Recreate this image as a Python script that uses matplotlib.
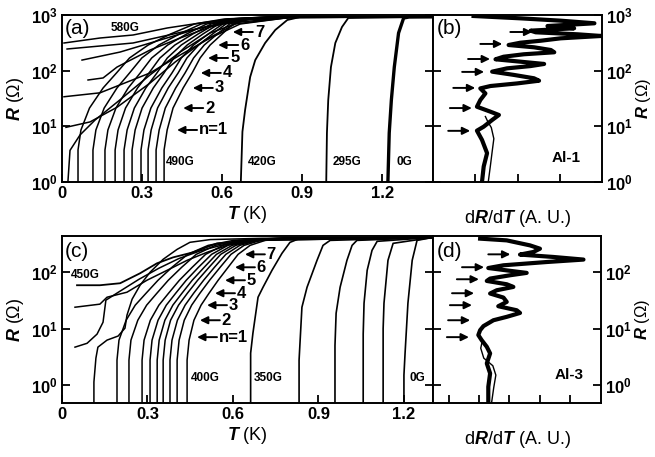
import numpy as np
import matplotlib
matplotlib.use('Agg')
import matplotlib.pyplot as plt
from matplotlib.ticker import NullLocator

plt.rcParams['font.family'] = ['Liberation Sans', 'DejaVu Sans']
plt.rcParams['font.weight'] = 'bold'
plt.rcParams['mathtext.fontset'] = 'custom'
plt.rcParams['mathtext.rm'] = 'Liberation Sans:bold'
plt.rcParams['mathtext.it'] = 'Liberation Sans:italic:bold'
plt.rcParams['mathtext.bf'] = 'Liberation Sans:bold'

# ---------------- panel (a): Al-1, R(T) ----------------
# curves that start at finite R at the lowest T (highest fields, 580G on top)
a_top_T = [
    [0.0075, 0.1425, 0.266, 0.394, 0.5175, 0.63, 0.7425, 0.8925, 1.39],
    [0.019, 0.266, 0.5175, 0.6675, 0.8925, 1.39],
    [0.075, 0.2175, 0.3675, 0.5175, 0.6675, 0.9, 1.39],
    [0.0975, 0.154, 0.206, 0.33, 0.4425, 0.555, 0.686, 0.9, 1.39],
    [0.0075, 0.1425, 0.33, 0.4425, 0.555, 0.6675, 0.85, 1.39],
    [0.015, 0.105, 0.206, 0.33, 0.424, 0.536, 0.649, 0.85, 1.39],
    [0.02, 0.03, 0.0675, 0.124, 0.2175, 0.33, 0.4425, 0.555, 0.6675, 0.85, 1.39],
]
a_top_R = [
    [314, 386, 437, 584, 718, 848, 910, 925, 925],
    [245, 314, 584, 813, 920, 925],
    [155, 216, 355, 584, 813, 920, 925],
    [68, 74, 116, 235, 386, 609, 848, 920, 925],
    [34, 40, 91, 191, 386, 689, 900, 925],
    [9.6, 12, 22, 60, 143, 355, 689, 900, 925],
    [0.7, 3.7, 7.0, 13, 30, 84, 216, 475, 748, 900, 925],
]
# bundle of curves between 490G and ~575G (shared R levels)
a_bundle_R = [0.72, 3.76, 8.6, 21.3, 48.9, 90.8, 169, 289, 456, 689, 848, 920, 925]
a_bundle_T = [
    [0.3825, 0.3825, 0.394, 0.416, 0.454, 0.4875, 0.5175, 0.555, 0.600, 0.641, 0.705, 0.8175, 1.39],
    [0.3525, 0.3525, 0.364, 0.387, 0.426, 0.461, 0.493, 0.533, 0.582, 0.628, 0.696, 0.814, 1.39],
    [0.3225, 0.3225, 0.334, 0.358, 0.398, 0.435, 0.468, 0.512, 0.564, 0.614, 0.687, 0.810, 1.39],
    [0.296, 0.296, 0.307, 0.333, 0.374, 0.412, 0.447, 0.493, 0.548, 0.602, 0.679, 0.807, 1.39],
    [0.2625, 0.2625, 0.274, 0.300, 0.342, 0.382, 0.419, 0.469, 0.528, 0.587, 0.669, 0.803, 1.39],
    [0.2325, 0.2325, 0.244, 0.271, 0.314, 0.3555, 0.3945, 0.447, 0.510, 0.574, 0.660, 0.800, 1.39],
    [0.199, 0.199, 0.210, 0.238, 0.283, 0.326, 0.367, 0.423, 0.490, 0.559, 0.650, 0.795, 1.39],
    [0.161, 0.161, 0.172, 0.202, 0.248, 0.293, 0.336, 0.396, 0.467, 0.542, 0.639, 0.791, 1.39],
    [0.116, 0.116, 0.127, 0.158, 0.206, 0.253, 0.299, 0.363, 0.440, 0.521, 0.625, 0.786, 1.39],
    [0.060, 0.060, 0.071, 0.103, 0.154, 0.204, 0.253, 0.323, 0.407, 0.496, 0.608, 0.779, 1.39],
]
a_420_T = [0.670, 0.670, 0.676, 0.686, 0.705, 0.724, 0.761, 0.799, 0.844, 0.8925, 1.39]
a_420_R = [0.7, 1.0, 8, 19.7, 77, 155, 314, 538, 813, 920, 925]
a_295_T = [0.99, 0.99, 0.9926, 0.9975, 1.0076, 1.024, 1.049, 1.0725, 1.39]
a_295_R = [0.7, 1, 7.6, 29.7, 116, 314, 609, 883, 925]
a_0_T = [1.221, 1.221, 1.226, 1.234, 1.245, 1.261, 1.28, 1.30, 1.39]
a_0_R = [0.7, 1, 7.6, 29.7, 116, 475, 883, 920, 925]

a_arrow_R = [8.6, 21.3, 48.9, 91, 169, 289, 495]
a_arrow_T = [0.431, 0.454, 0.49, 0.52, 0.547, 0.585, 0.64]
arrow_labels = ['n=1', '2', '3', '4', '5', '6', '7']

# ---------------- panel (b): dR/dT of Al-1 ----------------
b_dRdT = [0.96, 2.07, 3.02, 3.82, 2.71, 3.34, 2.31, 2.43, 3.42, 3.98, 3.02, 2.55, 2.07,
          1.79, 2.39, 2.79, 2.87, 2.15, 1.67, 1.48, 2.07, 2.63, 2.31, 1.75, 1.40, 1.91,
          2.39, 2.51, 1.99, 1.36, 1.12, 1.24, 1.12, 1.04, 1.36, 1.56, 1.40, 1.20, 1.04,
          1.16, 1.28, 1.20, 1.16, 1.16]
b_R = [960, 871, 791, 710, 634, 577, 523, 489, 450, 420, 381, 345, 318,
       289, 263, 235, 214, 197, 178, 160, 145, 132, 121, 110, 96, 84,
       73, 66, 59, 53, 48, 39, 29.7, 22.5, 18.3, 16.0, 13.0, 9.86, 8.36,
       5.7, 3.3, 1.9, 1.01, 0.9]
b_low_dRdT = [1.30, 1.36, 1.40, 1.44, 1.38, 1.30, 1.24]
b_low_R = [0.9, 2.0, 3.5, 6.0, 9.5, 12, 15]
b_arrow_R = [495, 302, 162, 95, 49, 21.3, 8.3]
b_arrow_x = [1.83, 1.12, 0.83, 0.69, 0.48, 0.40, 0.36]

# ---------------- panel (c): Al-3, R(T) ----------------
c_450_T = [0.0527, 0.133, 0.204, 0.274, 0.333, 0.390, 0.460, 0.544, 0.695, 0.835, 1.302]
c_450_R = [58.9, 58.9, 63.9, 96, 144, 184, 226, 326, 368, 400, 416]
c_low_T = [
    [0.0456, 0.133, 0.158, 0.228, 0.298, 0.369, 0.439, 0.509, 0.59, 0.695, 1.302],
    [0.0456, 0.088, 0.123, 0.144, 0.154, 0.20, 0.27, 0.34, 0.41, 0.49, 0.58, 0.70, 1.302],
    [0.112, 0.112, 0.119, 0.126, 0.158, 0.197, 0.221, 0.228, 0.246, 0.274, 0.309, 0.355,
     0.404, 0.449, 0.52, 0.70, 1.302],
]
c_low_R = [
    [24.0, 27.2, 36.1, 44.3, 72.2, 108.5, 163, 226, 313, 368, 416],
    [4.7, 5.5, 8.0, 13, 32, 45, 75, 118, 175, 245, 320, 370, 416],
    [0.36, 1.13, 3.0, 4.7, 6.26, 7.4, 10.2, 17.3, 33.3, 58.9, 100, 170, 255, 340, 380, 400, 416],
]
c_bundle_R = [0.36, 2.77, 6.26, 14.1, 26.1, 42.5, 72.2, 122.6, 208, 300, 368, 400, 416]
c_bundle_T = [
    [0.439, 0.439, 0.446, 0.463, 0.488, 0.516, 0.548, 0.583, 0.618, 0.660, 0.713, 0.800, 1.302],
    [0.404, 0.404, 0.411, 0.429, 0.455, 0.484, 0.518, 0.555, 0.593, 0.639, 0.697, 0.793, 1.302],
    [0.379, 0.379, 0.386, 0.405, 0.432, 0.462, 0.497, 0.535, 0.575, 0.624, 0.686, 0.788, 1.302],
    [0.355, 0.355, 0.362, 0.381, 0.409, 0.440, 0.476, 0.516, 0.557, 0.610, 0.675, 0.783, 1.302],
    [0.334, 0.334, 0.341, 0.361, 0.389, 0.421, 0.457, 0.499, 0.542, 0.597, 0.666, 0.779, 1.302],
    [0.309, 0.309, 0.316, 0.337, 0.366, 0.399, 0.436, 0.479, 0.525, 0.582, 0.655, 0.774, 1.302],
    [0.281, 0.281, 0.288, 0.310, 0.340, 0.374, 0.412, 0.457, 0.504, 0.565, 0.642, 0.768, 1.302],
    [0.235, 0.235, 0.242, 0.266, 0.297, 0.333, 0.373, 0.420, 0.471, 0.538, 0.621, 0.759, 1.302],
    [0.193, 0.193, 0.200, 0.225, 0.257, 0.295, 0.337, 0.386, 0.441, 0.513, 0.602, 0.751, 1.302],
]
c_high_T = [
    [0.662, 0.662, 0.670, 0.688, 0.7055, 0.737, 0.772, 0.800, 0.835, 1.302],
    [0.832, 0.832, 0.842, 0.860, 0.895, 0.916, 0.941, 1.302],
    [0.958, 0.958, 0.962, 0.976, 1.000, 1.018, 1.035, 1.302],
    [1.057, 1.057, 1.060, 1.071, 1.088, 1.106, 1.302],
    [1.127, 1.127, 1.130, 1.144, 1.162, 1.302],
    [1.200, 1.200, 1.204, 1.214, 1.229, 1.246, 1.302],
]
c_high_R = [
    [0.36, 3.68, 8.3, 36.1, 54.3, 108.5, 217, 339, 400, 416],
    [0.36, 2.77, 24, 54.3, 163, 300, 368, 416],
    [0.36, 5, 18.8, 54.3, 163, 300, 368, 416],
    [0.36, 8, 28.3, 108.5, 245, 354, 416],
    [0.36, 10, 28.3, 163, 326, 416],
    [0.36, 1.5, 3.68, 28.3, 163, 368, 416],
]
c_arrow_R = [7.07, 14.1, 26.1, 42.5, 72.2, 122.6, 208]
c_arrow_T = [0.474, 0.484, 0.509, 0.537, 0.572, 0.607, 0.642]

# ---------------- panel (d): dR/dT of Al-3 ----------------
d_dRdT = [1.03, 1.91, 2.68, 3.01, 2.79, 2.35, 3.45, 4.45, 3.23, 1.80, 1.30, 1.91, 2.57,
          2.02, 1.36, 1.25, 1.91, 2.13, 1.58, 1.36, 1.80, 1.91, 1.63, 2.24, 2.35, 1.91,
          1.47, 1.14, 1.03, 0.97, 1.08, 1.25, 1.36, 1.25, 1.36, 1.30, 1.30]
d_R = [395, 368, 300, 262, 229, 206, 187, 168, 152, 133, 119, 108, 97.5,
       88.5, 77.3, 70.2, 61.3, 55, 48, 42, 35.6, 29.8, 25, 21.2, 19.0, 16.2,
       14.1, 11.1, 9.4, 7.7, 6.26, 4.77, 3.64, 2.42, 1.61, 0.93, 0.45]
d_low_dRdT = [1.10, 1.05, 1.15, 1.45, 1.55, 1.48, 1.40]
d_low_R = [6.0, 4.5, 3.0, 2.2, 1.5, 0.9, 0.45]
d_arrow_R = [208, 123, 75.2, 42.5, 26.1, 14.1, 7.07]
d_arrow_x = [1.30, 0.43, 0.26, 0.10, 0.03, -0.03, -0.07]

fig = plt.figure(figsize=(6.55, 4.57), dpi=100)
ax_a = fig.add_axes([62/655, 1-182/457, 371/655, 167/457])
ax_b = fig.add_axes([433/655, 1-182/457, 169/655, 167/457])
ax_c = fig.add_axes([62/655, 1-403/457, 371/655, 167/457])
ax_d = fig.add_axes([433/655, 1-403/457, 168/655, 167/457])

lw = 1.1
for T, R in zip(a_top_T, a_top_R):
    ax_a.plot(T, R, color='k', lw=lw)
for T in a_bundle_T:
    ax_a.plot(T, a_bundle_R, color='k', lw=lw)
ax_a.plot(a_420_T, a_420_R, color='k', lw=1.3)
ax_a.plot(a_295_T, a_295_R, color='k', lw=1.3)
ax_a.plot(a_0_T, a_0_R, color='k', lw=2.4)

ax_c.plot(c_450_T, c_450_R, color='k', lw=1.3)
for T, R in zip(c_low_T, c_low_R):
    ax_c.plot(T, R, color='k', lw=lw)
for T in c_bundle_T:
    ax_c.plot(T, c_bundle_R, color='k', lw=lw)
for T, R in zip(c_high_T, c_high_R):
    ax_c.plot(T, R, color='k', lw=1.2)

ax_b.plot(b_dRdT, b_R, color='k', lw=3.0)
ax_b.plot(b_low_dRdT, b_low_R, color='k', lw=1.0)
ax_d.plot(d_dRdT, d_R, color='k', lw=3.0)
ax_d.plot(d_low_dRdT, d_low_R, color='k', lw=1.0)

arr = dict(arrowstyle='-|>,head_length=0.45,head_width=0.22', color='k', lw=1.4,
           shrinkA=0, shrinkB=0)
for T, R, lab in zip(a_arrow_T, a_arrow_R, arrow_labels):
    ax_a.annotate('', xy=(T, R), xytext=(T + 0.075, R), arrowprops=arr)
    ax_a.text(T + 0.083, R, lab, fontsize=12, va='center', ha='left')
for T, R, lab in zip(c_arrow_T, c_arrow_R, arrow_labels):
    ax_c.annotate('', xy=(T, R), xytext=(T + 0.07, R), arrowprops=arr)
    ax_c.text(T + 0.076, R, lab, fontsize=12, va='center', ha='left')
for x, R in zip(b_arrow_x, b_arrow_R):
    ax_b.annotate('', xy=(x + 0.52, R), xytext=(x, R), arrowprops=arr)
for x, R in zip(d_arrow_x, d_arrow_R):
    ax_d.annotate('', xy=(x + 0.73, R), xytext=(x, R), arrowprops=arr)

# field labels
ax_a.text(0.236, 584, '580G', fontsize=8.5, ha='center', va='center')
for T, lab in zip([0.4425, 0.75, 1.069, 1.284], ['490G', '420G', '295G', '0G']):
    ax_a.text(T, 2.3, lab, fontsize=8.5, ha='center', va='center')
ax_c.text(0.081, 88.5, '450G', fontsize=8.5, ha='center', va='center')
for T, lab in zip([0.502, 0.723, 1.246], ['400G', '350G', '0G']):
    ax_c.text(T, 1.33, lab, fontsize=8.5, ha='center', va='center')

for ax, lab, y in [(ax_a, '(a)', 0.92), (ax_b, '(b)', 0.92), (ax_c, '(c)', 0.905), (ax_d, '(d)', 0.905)]:
    x = 0.008 if ax in (ax_a, ax_c) else 0.024
    ax.text(x, y, lab, transform=ax.transAxes, fontsize=15, fontweight='normal', va='center')
ax_b.text(0.79, 0.145, 'Al-1', transform=ax_b.transAxes, fontsize=11, ha='center', va='center')
ax_d.text(0.81, 0.17, 'Al-3', transform=ax_d.transAxes, fontsize=11, ha='center', va='center')

# axes styling
for ax in (ax_a, ax_b, ax_c, ax_d):
    ax.set_yscale('log')
    ax.yaxis.set_minor_locator(NullLocator())
    ax.tick_params(direction='in', length=6, width=1.3, labelsize=12, pad=3,
                   left=True, right=True, top=False)
    for s in ax.spines.values():
        s.set_linewidth(1.4)

ax_a.set_xlim(0, 1.39)
ax_a.set_ylim(1, 1000)
ax_a.set_yticks([1, 10, 100, 1000])
ax_c.set_xlim(0, 1.302)
ax_c.set_ylim(0.48, 440)
ax_c.set_yticks([1, 10, 100])
for ax in (ax_a, ax_c):
    ax.set_xticks([0, 0.3, 0.6, 0.9, 1.2])
    ax.set_xticklabels(['0', '0.3', '0.6', '0.9', '1.2'])
    ax.set_xlabel(r'$\mathit{T}$ (K)', fontsize=13, labelpad=2)
    ax.set_ylabel(r'$\mathit{R}$ (Ω)', fontsize=13, labelpad=4)

ax_b.set_xlim(0, 4)
ax_b.set_xticks([1, 2, 3])
ax_b.set_ylim(1, 1000)
ax_b.set_yticks([1, 10, 100, 1000])
ax_d.set_xlim(-0.53, 5.03)
ax_d.set_xticks([0, 1, 2, 3, 4])
ax_d.set_ylim(0.48, 440)
ax_d.set_yticks([1, 10, 100])
for ax in (ax_b, ax_d):
    ax.tick_params(labelbottom=False, labelleft=False, labelright=True)
    ax.yaxis.set_label_position('right')
    ax.set_ylabel(r'$\mathit{R}$ (Ω)', fontsize=12, labelpad=1)
    ax.set_xlabel(r'd$\mathit{R}$/d$\mathit{T}$ (A. U.)', fontsize=13, labelpad=19)

fig.savefig('out.png', dpi=100)
